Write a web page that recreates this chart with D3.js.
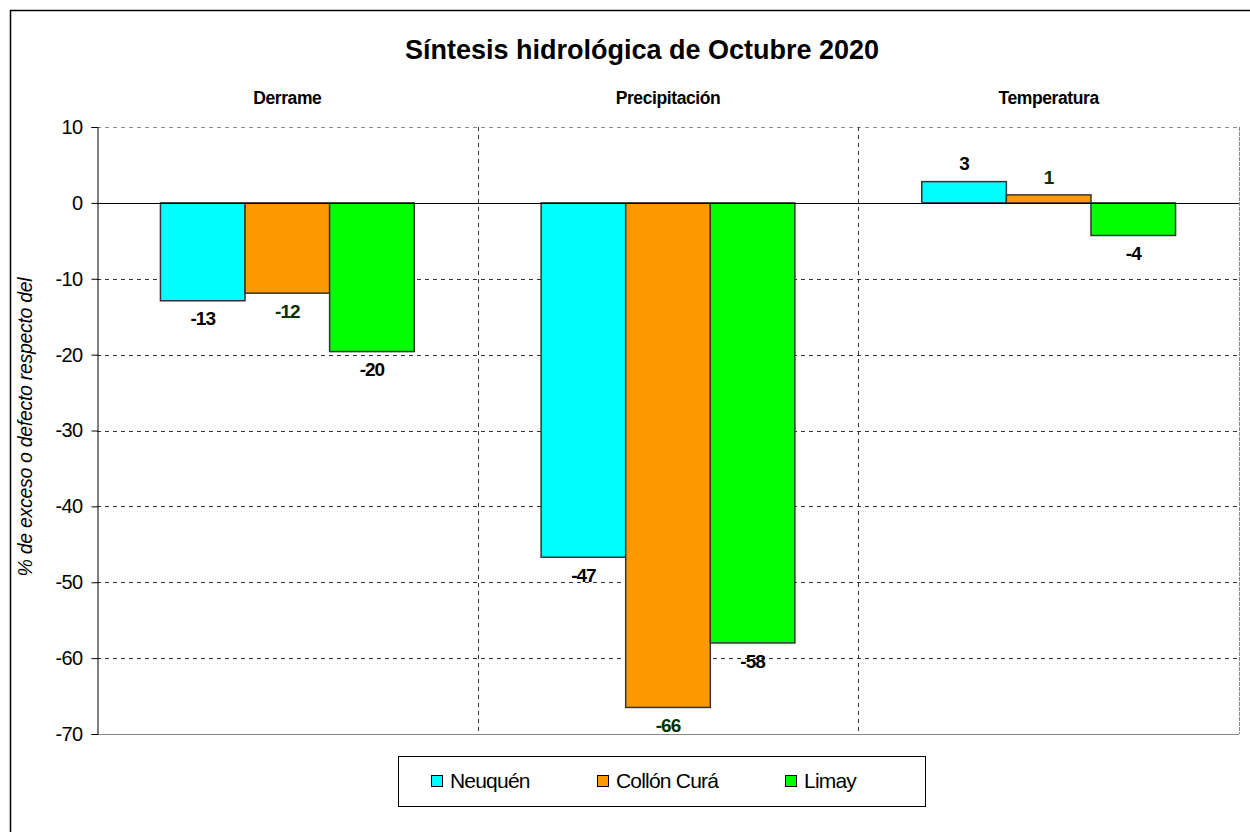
<!DOCTYPE html>
<html>
<head>
<meta charset="utf-8">
<script src="https://cdn.jsdelivr.net/npm/d3@7"></script>
<style>
  body { margin: 0; background: #fff; }
  svg { font-family: 'Liberation Sans', Arial, sans-serif; }
</style>
</head>
<body>
<script>
"use strict"

// Data
const groups = ['Derrame', 'Precipitación', 'Temperatura']
const series = ['Neuquén', 'Collón Curá', 'Limay']
const neuquen = [-12.9, -46.7, 2.8]
const collonCura = [-11.9, -66.5, 1.05]
const limay = [-19.6, -58.0, -4.3]
const yTicks = [10, 0, -10, -20, -30, -40, -50, -60, -70]

const values = [neuquen, collonCura, limay]
const fills = ['#00ffff', '#ff9900', '#00ff00']
const labelColors = ['#000', '#003300', '#000']

const W = 1250, H = 832
const plot = { left: 97, right: 1239, top: 127, bottom: 734 }

const svg = d3.select('body').append('svg')
  .attr('width', W).attr('height', H)

// Outer chart border
svg.append('rect')
  .attr('x', 10.5).attr('y', 10.5)
  .attr('width', W + 20).attr('height', H + 20)
  .attr('fill', 'none').attr('stroke', '#000').attr('stroke-width', 1.5)

/****** SCALES ******/
const y = d3.scaleLinear().domain([-70, 10]).range([plot.bottom, plot.top])
const x0 = d3.scaleBand().domain(groups).range([plot.left, plot.right])
const x1 = d3.scaleBand().domain(series)
  .range([x0.bandwidth() / 6, x0.bandwidth() * 5 / 6])

/****** GRID ******/
const grid = svg.append('g')
grid.selectAll('line.h')
  .data(yTicks.filter(t => t !== 0 && t !== -70))
  .enter().append('line')
    .attr('class', 'h')
    .attr('x1', plot.left).attr('x2', plot.right)
    .attr('y1', d => Math.round(y(d)) + 0.5).attr('y2', d => Math.round(y(d)) + 0.5)
    .attr('stroke', d => d === 10 ? '#888' : '#333')
    .attr('stroke-dasharray', '4,4')
// Vertical separators between groups
grid.selectAll('line.v')
  .data(groups.slice(1))
  .enter().append('line')
    .attr('class', 'v')
    .attr('x1', d => Math.round(x0(d)) + 0.5).attr('x2', d => Math.round(x0(d)) + 0.5)
    .attr('y1', plot.top).attr('y2', plot.bottom)
    .attr('stroke', '#333').attr('stroke-dasharray', '4,4')
// Right and bottom edges of plot area
svg.append('line')
  .attr('x1', plot.right + 0.5).attr('x2', plot.right + 0.5)
  .attr('y1', plot.top).attr('y2', plot.bottom)
  .attr('stroke', '#888').attr('stroke-dasharray', '4,1')
svg.append('line')
  .attr('x1', plot.left).attr('x2', plot.right)
  .attr('y1', y(-70) + 0.5).attr('y2', y(-70) + 0.5)
  .attr('stroke', '#888')

/****** BARS ******/
const barGroups = svg.selectAll('g.group')
  .data(groups)
  .enter().append('g')
    .attr('class', 'group')
    .attr('transform', d => `translate(${x0(d)},0)`)

barGroups.selectAll('rect')
  .data((g, gi) => series.map((s, si) => ({ s, si, v: values[si][gi] })))
  .enter().append('rect')
    .attr('x', d => x1(d.s))
    .attr('width', x1.bandwidth())
    .attr('y', d => y(Math.max(0, d.v)))
    .attr('height', d => Math.abs(y(d.v) - y(0)))
    .attr('fill', d => fills[d.si])
    .attr('stroke', '#333').attr('stroke-width', 1.5)

// Value labels
barGroups.selectAll('text.val')
  .data((g, gi) => series.map((s, si) => ({ s, si, v: values[si][gi] })))
  .enter().append('text')
    .attr('class', 'val')
    .attr('x', d => x1(d.s) + x1.bandwidth() / 2)
    .attr('y', d => d.v >= 0 ? y(d.v) - 18 : y(d.v) + 18)
    .attr('dy', '0.35em')
    .attr('text-anchor', 'middle')
    .attr('font-size', 19).attr('font-weight', 'bold')
    .attr('letter-spacing', -1)
    .attr('fill', d => labelColors[d.si])
    .text(d => Math.round(d.v))

// Group titles
svg.selectAll('text.gtitle')
  .data(groups)
  .enter().append('text')
    .attr('class', 'gtitle')
    .attr('x', d => x0(d) + x0.bandwidth() / 2)
    .attr('y', 104)
    .attr('text-anchor', 'middle')
    .attr('font-size', 17.5).attr('font-weight', 'bold')
    .attr('letter-spacing', -0.4)
    .text(d => d)

/****** AXIS ******/
// Zero line
svg.append('line')
  .attr('x1', plot.left).attr('x2', plot.right)
  .attr('y1', Math.round(y(0)) + 0.5).attr('y2', Math.round(y(0)) + 0.5)
  .attr('stroke', '#000')

const yAxis = svg.append('g')
  .attr('transform', `translate(${plot.left + 0.5},0)`)
  .call(d3.axisLeft(y).tickValues(yTicks).tickSize(6).tickPadding(9).tickFormat(d => d))
yAxis.select('.domain').attr('stroke', '#000')
yAxis.selectAll('.tick line').attr('stroke', '#000')
yAxis.selectAll('text')
  .attr('font-family', "'Liberation Sans', Arial, sans-serif")
  .attr('font-size', 20).attr('letter-spacing', -0.6)
  .attr('fill', '#000')

svg.append('text')
  .attr('transform', 'translate(32,427) rotate(-90)')
  .attr('text-anchor', 'middle')
  .attr('font-size', 19.5).attr('font-style', 'italic')
  .attr('letter-spacing', -0.3)
  .text('% de exceso o defecto respecto del')

// Title
svg.append('text')
  .attr('x', 642).attr('y', 59)
  .attr('text-anchor', 'middle')
  .attr('font-size', 27).attr('font-weight', 'bold')
  .attr('letter-spacing', 0)
  .text('Síntesis hidrológica de Octubre 2020')

/****** LEGEND ******/
const legend = svg.append('g')
legend.append('rect')
  .attr('x', 398.5).attr('y', 756.5)
  .attr('width', 527).attr('height', 50)
  .attr('fill', '#fff').attr('stroke', '#000')
const legendX = [431, 597, 785]
const items = legend.selectAll('g.item')
  .data(series)
  .enter().append('g')
    .attr('class', 'item')
    .attr('transform', (d, i) => `translate(${legendX[i]},781)`)
items.append('rect')
  .attr('x', 0.5).attr('y', -5.5)
  .attr('width', 11).attr('height', 11)
  .attr('fill', (d, i) => fills[i]).attr('stroke', '#000')
items.append('text')
  .attr('x', 19).attr('dy', '0.35em')
  .attr('font-size', 21).attr('letter-spacing', -0.8)
  .text(d => d)
</script>
</body>
</html>
